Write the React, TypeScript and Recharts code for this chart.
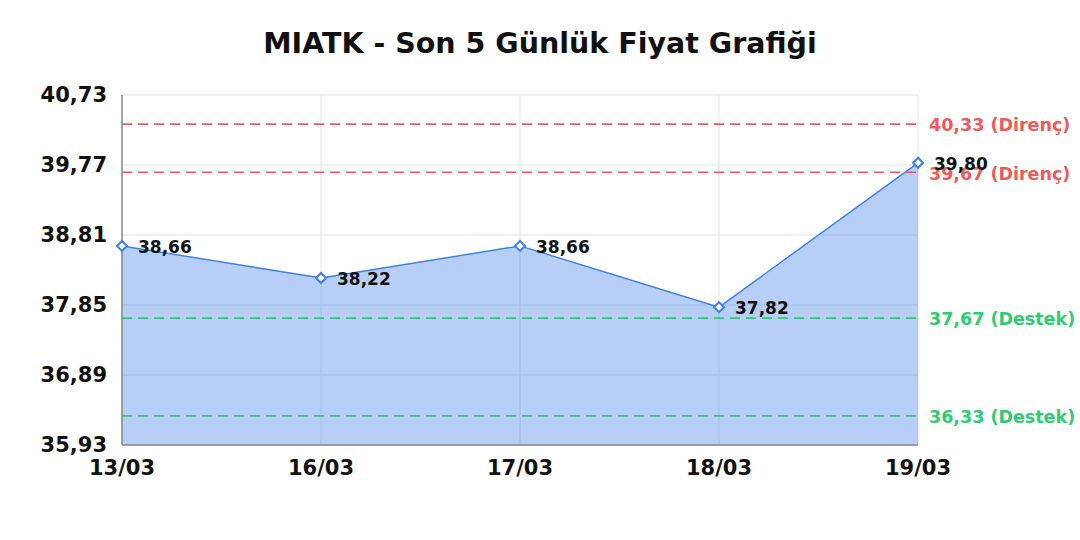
import React from "react";
import {
  AreaChart,
  Area,
  XAxis,
  YAxis,
  CartesianGrid,
  ReferenceLine,
  LabelList,
} from "recharts";

const dates = ["13/03", "16/03", "17/03", "18/03", "19/03"];
const prices = [38.66, 38.22, 38.66, 37.82, 39.8];
const yTicks = [35.93, 36.89, 37.85, 38.81, 39.77, 40.73];
const resistance = [40.33, 39.67];
const support = [37.67, 36.33];

const FONT = "'DejaVu Sans', Verdana, sans-serif";
const BLUE = "#3b7fe8";
const RED = "#f05a5a";
const GREEN = "#2ecc71";

const fmt = (v: number) => v.toFixed(2).replace(".", ",");

const data = dates.map((d, i) => ({ date: d, price: prices[i] }));

function Diamond(props: any) {
  const { cx, cy } = props;
  if (cx == null || cy == null) return null;
  const r = 5;
  return (
    <path
      d={`M${cx},${cy - r} L${cx + r},${cy} L${cx},${cy + r} L${cx - r},${cy} Z`}
      fill="#fff"
      stroke={BLUE}
      strokeWidth={2}
    />
  );
}

function PriceLabel(props: any) {
  const { x, y, value } = props;
  return (
    <text
      x={x + 16}
      y={y + 1}
      dy="0.355em"
      fontFamily={FONT}
      fontWeight="bold"
      fontSize={17}
      fill="#111"
    >
      {fmt(value)}
    </text>
  );
}

function refLabel(text: string, color: string) {
  return (props: any) => {
    const { viewBox } = props;
    return (
      <text
        x={viewBox.x + viewBox.width + 11}
        y={viewBox.y + 1}
        dy="0.355em"
        fontFamily={FONT}
        fontWeight="bold"
        fontSize={17.5}
        fill={color}
      >
        {text}
      </text>
    );
  };
}

export default function App() {
  return (
    <div
      style={{
        position: "absolute",
        left: 0,
        top: 0,
        width: 1080,
        height: 540,
        background: "#fff",
      }}
    >
      <div
        style={{
          position: "absolute",
          left: 0,
          top: 26,
          width: 1080,
          textAlign: "center",
          fontFamily: FONT,
          fontWeight: "bold",
          fontSize: 28.5,
          lineHeight: "36px",
          color: "#111",
        }}
      >
        MIATK - Son 5 Günlük Fiyat Grafiği
      </div>
      <AreaChart
        width={1080}
        height={540}
        data={data}
        margin={{ top: 95, right: 162, bottom: 65, left: 0 }}
      >
        <CartesianGrid stroke="#e3e3e3" strokeWidth={1} />
        <XAxis
          dataKey="date"
          height={30}
          padding={{ left: 0, right: 0 }}
          tick={{ fontSize: 21, fontWeight: "bold", fill: "#111", fontFamily: FONT }}
          tickLine={false}
          tickSize={6}
          tickMargin={9}
          axisLine={{ stroke: "#888", strokeWidth: 1.5 }}
          interval={0}
        />
        <YAxis
          width={122}
          domain={[35.93, 40.73]}
          ticks={yTicks}
          allowDataOverflow
          tickFormatter={fmt}
          tick={{ fontSize: 21, fontWeight: "bold", fill: "#111", fontFamily: FONT }}
          tickLine={false}
          tickSize={6}
          tickMargin={9}
          axisLine={{ stroke: "#888", strokeWidth: 1.5 }}
        />
        <Area
          type="linear"
          dataKey="price"
          stroke={BLUE}
          strokeWidth={1.4}
          fill="#4a86e8"
          fillOpacity={0.4}
          dot={<Diamond />}
          activeDot={false}
          isAnimationActive={false}
        >
          <LabelList dataKey="price" content={<PriceLabel />} />
        </Area>
        {resistance.map((v) => (
          <ReferenceLine
            key={`r${v}`}
            y={v}
            stroke={RED}
            strokeWidth={1.6}
            strokeDasharray="10 6"
            label={refLabel(`${fmt(v)} (Direnç)`, RED)}
          />
        ))}
        {support.map((v) => (
          <ReferenceLine
            key={`s${v}`}
            y={v}
            stroke={GREEN}
            strokeWidth={1.6}
            strokeDasharray="10 6"
            label={refLabel(`${fmt(v)} (Destek)`, GREEN)}
          />
        ))}
      </AreaChart>
    </div>
  );
}
